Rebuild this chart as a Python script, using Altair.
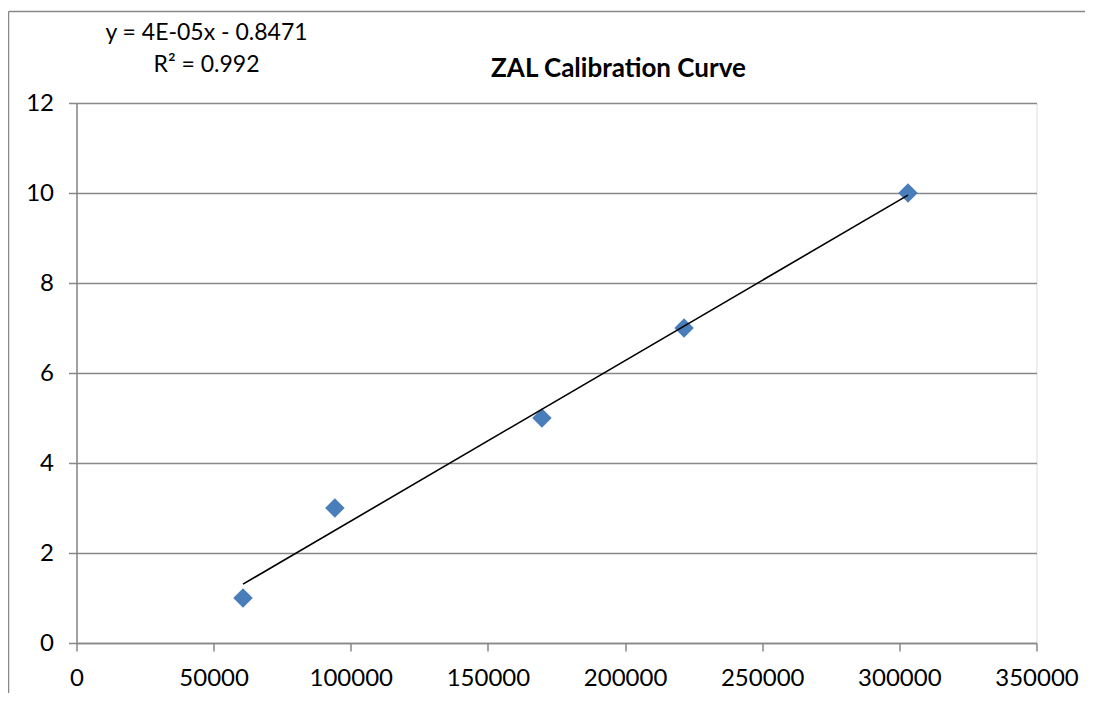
import altair as alt
import pandas as pd

# data
x_vals = [60700, 94200, 169700, 221500, 303150]
y_vals = [1, 3, 5, 7, 10]
x_ticks = [0, 50000, 100000, 150000, 200000, 250000, 300000, 350000]
y_ticks = [0, 2, 4, 6, 8, 10, 12]
title_text = ["ZAL Calibration Curve"]
eq_text = ["y = 4E-05x - 0.8471", "R² = 0.992"]

df = pd.DataFrame({"x": x_vals, "y": y_vals})

FONT = "Lato"
GRAY = "#878787"

xscale = alt.Scale(domain=[0, 350000], nice=False, zero=True)
yscale = alt.Scale(domain=[0, 12], nice=False)

xaxis = alt.Axis(values=x_ticks, format="d", title=None, grid=False,
                 tickSize=8, tickWidth=1.5, tickColor=GRAY,
                 domainColor=GRAY, domainWidth=1.5,
                 labelPadding=15, labelFontSize=24, labelFont=FONT,
                 labelColor="black", labelFlush=False, labelOverlap=False)
yaxis = alt.Axis(values=y_ticks, title=None, grid=True, gridColor=GRAY,
                 gridWidth=1.5, tickSize=8, tickWidth=1.5, tickColor=GRAY,
                 domainColor=GRAY, domainWidth=1.5,
                 labelPadding=15, labelFontSize=24, labelFont=FONT,
                 labelColor="black")

base = alt.Chart(df)

points = base.mark_point(shape="diamond", filled=True, size=380,
                         color="#4A7EBB", opacity=1).encode(
    x=alt.X("x:Q", scale=xscale, axis=xaxis),
    y=alt.Y("y:Q", scale=yscale, axis=yaxis),
)

trend = base.transform_regression("x", "y", method="linear").mark_line(
    color="black", strokeWidth=1.6).encode(
    x=alt.X("x:Q", scale=xscale),
    y=alt.Y("y:Q", scale=yscale),
)

title = alt.Chart(pd.DataFrame({"t": title_text})).mark_text(
    font=FONT, fontSize=26, fontWeight="bold", color="black",
    align="center", baseline="middle").encode(
    text="t:N", x=alt.value(542), y=alt.value(-34))

eq_df = pd.DataFrame({"t": eq_text, "yy": [-70, -38]})
eq = alt.Chart(eq_df).mark_text(
    font=FONT, fontSize=23, color="black", align="center",
    baseline="middle").encode(
    text="t:N", x=alt.value(130), y=alt.Y("yy:Q", scale=None, axis=None))

frame_left = alt.Chart(pd.DataFrame({"a": [0]})).mark_rule(
    color=GRAY, strokeWidth=1.5).encode(
    x=alt.value(-68), y=alt.value(-91.5), y2=alt.value(600))
frame_top = alt.Chart(pd.DataFrame({"a": [0]})).mark_rule(
    color=GRAY, strokeWidth=1.5).encode(
    x=alt.value(-68), x2=alt.value(1010), y=alt.value(-91.5))

chart = alt.layer(frame_left, frame_top, points, trend, title, eq).properties(
    width=960, height=540,
    autosize=alt.AutoSizeParams(type="none"),
    padding={"left": 68.5, "top": 95, "right": 48, "bottom": 50},
).configure_view(stroke="transparent", strokeWidth=0).configure(background="white")

chart.save("out.html", embed_options={"renderer": "svg", "actions": False})
